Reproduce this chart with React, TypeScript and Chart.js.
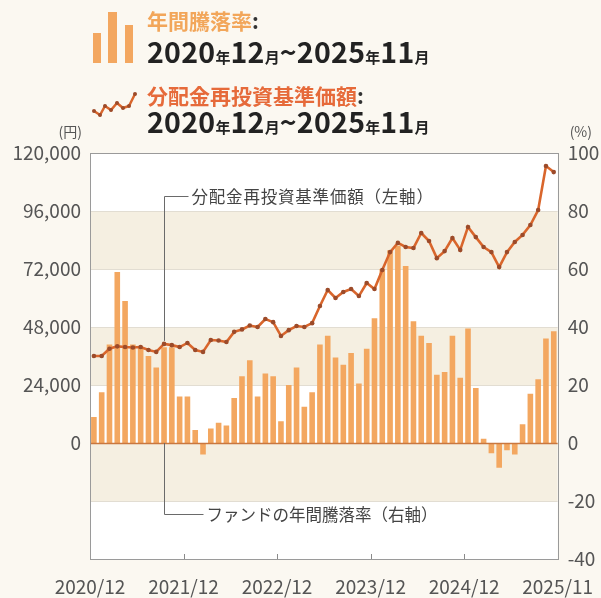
import React, { useEffect, useRef } from 'react';
import { Chart, registerables } from 'chart.js';

Chart.register(...registerables);

// ---- data ----
const tickLabels = ['2020/12', '2021/12', '2022/12', '2023/12', '2024/12', '2025/11'];
const tickPositions = [0, 12, 24, 36, 48, 60];

// 年間騰落率 (%), monthly 2020/12 - 2025/11
const annualReturn = [
  9, 17.5, 34, 59, 49, 34, 33, 30, 26, 33,
  33, 16, 16, 4.5, -4, 5, 7, 6, 15.5, 23,
  28.5, 16, 24, 23, 7.5, 20, 26, 12.5, 17.5, 34,
  37, 29.5, 27, 31, 20.5, 32.5, 43, 60, 66.5, 68,
  61, 42, 37, 34.5, 23.5, 24.5, 37, 22.5, 39.5, 19,
  1.5, -3.5, -8.5, -2.5, -4, 6.5, 17, 22, 36, 38.5,
];

// 分配金再投資基準価額 (円)
const navReinvested = [
  36000, 36000, 39000, 40000, 39700, 39500, 39700, 38500, 37700, 41000,
  40500, 39700, 41400, 38500, 37700, 42600, 42400, 41800, 46000, 47000,
  48600, 48000, 51300, 50000, 44300, 46700, 48400, 48000, 49600, 56700,
  63300, 60000, 62500, 63700, 60800, 66200, 63700, 71600, 79000, 82800,
  81100, 80700, 86900, 83600, 76500, 79400, 84800, 79900, 89400, 85200,
  81100, 79000, 72800, 79000, 83200, 86100, 90200, 96400, 114600, 112100,
];

const leftTicks = [-48000, -24000, 0, 24000, 48000, 72000, 96000, 120000];
const rightTicks = [-40, -20, 0, 20, 40, 60, 80, 100];
const shadedBands = [
  [72000, 96000],
  [24000, 48000],
  [-24000, 0],
];

const BG = '#fbf8f1';
const BAND = '#f5efe1';
const BAR = '#f3a760';
const LINE = '#d9662c';
const DOT = '#9c4b2a';
const FONT = '"Noto Sans CJK JP", "Noto Sans", sans-serif';

const decorPlugin = {
  id: 'decor',
  beforeDraw(chart: any) {
    const { ctx, chartArea: a, scales } = chart;
    const y = scales.y;
    ctx.save();
    ctx.fillStyle = '#ffffff';
    ctx.fillRect(a.left, a.top, a.right - a.left, a.bottom - a.top);
    ctx.fillStyle = BAND;
    shadedBands.forEach(([lo, hi]) => {
      const y1 = y.getPixelForValue(hi);
      const y2 = y.getPixelForValue(lo);
      ctx.fillRect(a.left, y1, a.right - a.left, y2 - y1);
    });
    ctx.restore();
  },
  afterDatasetsDraw(chart: any) {
    const { ctx, chartArea: a, scales } = chart;
    const x = scales.x;
    const y = scales.y;
    const y1 = scales.y1;
    ctx.save();
    // zero line
    const z = Math.round(y.getPixelForValue(0)) + 0.5;
    ctx.strokeStyle = '#c9773f';
    ctx.lineWidth = 1.5;
    ctx.beginPath();
    ctx.moveTo(a.left, z);
    ctx.lineTo(a.right, z);
    ctx.stroke();

    // frame
    ctx.strokeStyle = '#9a9a9a';
    ctx.lineWidth = 1;
    ctx.strokeRect(Math.round(a.left) + 0.5, Math.round(a.top) + 0.5, Math.round(a.right - a.left), Math.round(a.bottom - a.top));

    // inner tick marks on x axis
    ctx.strokeStyle = '#8a8a8a';
    tickPositions.slice(1, -1).forEach((v) => {
      const px = Math.round(x.getPixelForValue(v)) + 0.5;
      ctx.beginPath();
      ctx.moveTo(px, a.bottom);
      ctx.lineTo(px, a.bottom - 5);
      ctx.stroke();
    });

    // annotations
    const idx = 9;
    const ax = Math.round(x.getPixelForValue(idx + 0.5)) + 0.5;
    ctx.strokeStyle = '#6a6a6a';
    ctx.lineWidth = 1;
    ctx.font = `16.5px ${FONT}`;
    ctx.fillStyle = '#444';
    ctx.textBaseline = 'middle';
    ctx.textAlign = 'left';

    const lTop = Math.round(y.getPixelForValue(102000)) + 0.5;
    const lBot = y.getPixelForValue(navReinvested[idx]) - 3;
    ctx.beginPath();
    ctx.moveTo(ax, lBot);
    ctx.lineTo(ax, lTop);
    ctx.lineTo(ax + 24, lTop);
    ctx.stroke();
    try {
      ctx.letterSpacing = '0.8px';
    } catch (e) {
      /* ignore */
    }
    ctx.fillText('分配金再投資基準価額（左軸）', ax + 27, lTop);
    try {
      ctx.letterSpacing = '0px';
    } catch (e) {
      /* ignore */
    }

    const bTop = y1.getPixelForValue(0);
    const bBot = Math.round(y1.getPixelForValue(-24.5)) + 0.5;
    ctx.beginPath();
    ctx.moveTo(ax, bTop);
    ctx.lineTo(ax, bBot);
    ctx.lineTo(ax + 39, bBot);
    ctx.stroke();
    ctx.fillText('ファンドの年間騰落率（右軸）', ax + 42, bBot);

    // axis unit labels
    ctx.font = `14px ${FONT}`;
    ctx.fillStyle = '#555';
    ctx.textAlign = 'right';
    ctx.fillText('(円)', a.left - 8, a.top - 21);
    ctx.textAlign = 'left';
    ctx.fillText('(%)', a.right + 12, a.top - 21);
    ctx.restore();
  },
};

export default function App() {
  const ref = useRef<HTMLCanvasElement>(null);
  useEffect(() => {
    document.body.style.margin = '0';
    document.body.style.background = BG;
    const tickFont = { family: FONT, size: 19 };
    const chart = new Chart(ref.current as HTMLCanvasElement, {
      type: 'bar',
      data: {
        datasets: [
          {
            type: 'line',
            label: '分配金再投資基準価額',
            data: navReinvested.map((v, i) => ({ x: i + 0.5, y: v })),
            yAxisID: 'y',
            borderColor: LINE,
            borderWidth: 2.6,
            pointRadius: 2.3,
            pointBackgroundColor: DOT,
            pointBorderWidth: 0,
            tension: 0,
            order: 0,
          } as any,
          {
            type: 'bar',
            label: '年間騰落率',
            data: annualReturn.map((v, i) => ({ x: i + 0.5, y: v })),
            yAxisID: 'y1',
            backgroundColor: BAR,
            barPercentage: 0.72,
            categoryPercentage: 1,
            order: 1,
          } as any,
        ],
      },
      options: {
        animation: false,
        responsive: false,
        maintainAspectRatio: false,
        layout: { padding: { top: 153, left: 0, right: 0, bottom: 0 } },
        plugins: { legend: { display: false }, tooltip: { enabled: false } },
        scales: {
          x: {
            type: 'linear',
            offset: false,
            min: 0,
            max: 60,
            afterBuildTicks: (s: any) => {
              s.ticks = tickPositions.map((v) => ({ value: v }));
            },
            afterFit: (s: any) => {
              s.height = 39;
            },
            ticks: {
              autoSkip: false,
              maxRotation: 0,
              padding: 8,
              color: '#555',
              font: tickFont,
              callback: (v: any) => {
                const k = tickPositions.indexOf(Number(v));
                return k >= 0 ? tickLabels[k] : '';
              },
            },
            grid: { display: false, offset: false },
            border: { display: false },
          },
          y: {
            position: 'left',
            min: -48000,
            max: 120000,
            afterBuildTicks: (s: any) => {
              s.ticks = leftTicks.map((v) => ({ value: v }));
            },
            afterFit: (s: any) => {
              s.width = 90;
            },
            ticks: {
              padding: 9,
              color: '#555',
              font: tickFont,
              callback: (v: any) => (Number(v) < 0 ? '' : Number(v).toLocaleString('en-US')),
            },
            grid: {
              drawTicks: false,
              color: (c: any) => (c.tick && (c.tick.value === 0 || c.tick.value === 120000) ? 'rgba(0,0,0,0)' : '#e2ddd2'),
              lineWidth: 1,
            },
            border: { display: false },
          },
          y1: {
            position: 'right',
            min: -40,
            max: 100,
            afterBuildTicks: (s: any) => {
              s.ticks = rightTicks.map((v) => ({ value: v }));
            },
            afterFit: (s: any) => {
              s.width = 43;
            },
            ticks: { padding: 10, color: '#555', font: tickFont },
            grid: { display: false, drawTicks: false },
            border: { display: false },
          },
        },
      },
      plugins: [decorPlugin],
    } as any);
    return () => chart.destroy();
  }, []);

  const small = { fontSize: 15, letterSpacing: 0 };
  const dateStyle: React.CSSProperties = {
    position: 'absolute',
    left: 147,
    fontFamily: FONT,
    fontWeight: 700,
    fontSize: 28.5,
    lineHeight: '28px',
    letterSpacing: 0.3,
    color: '#222',
    whiteSpace: 'nowrap',
  };
  const dateText = (
    <>
      2020<span style={small}>年</span>12<span style={small}>月</span>~2025<span style={small}>年</span>11
      <span style={small}>月</span>
    </>
  );

  return (
    <div style={{ position: 'relative', width: 601, height: 598, background: BG, overflow: 'hidden' }}>
      <canvas ref={ref} width={601} height={598} style={{ position: 'absolute', left: 0, top: 0 }} />
      {/* bar legend icon */}
      <div style={{ position: 'absolute', left: 93, top: 33, width: 8, height: 30, background: BAR }} />
      <div style={{ position: 'absolute', left: 108, top: 12, width: 9, height: 51, background: BAR }} />
      <div style={{ position: 'absolute', left: 125, top: 25, width: 8, height: 38, background: BAR }} />
      <div
        style={{
          position: 'absolute',
          left: 147,
          top: 10,
          fontFamily: FONT,
          fontWeight: 700,
          fontSize: 21,
          lineHeight: '21px',
          color: '#f2a65a',
          whiteSpace: 'nowrap',
        }}
      >
        年間騰落率<span style={{ color: '#333' }}>:</span>
      </div>
      <div style={{ ...dateStyle, top: 37 }}>{dateText}</div>
      {/* line legend icon */}
      <svg style={{ position: 'absolute', left: 90, top: 88 }} width={48} height={36}>
        <polyline
          points="4,23 10,27 15,18 21,22 27,15 33,20 39,18 45,6"
          fill="none"
          stroke={LINE}
          strokeWidth={2.5}
        />
        {[
          [4, 23],
          [10, 27],
          [15, 18],
          [21, 22],
          [27, 15],
          [33, 20],
          [39, 18],
          [45, 6],
        ].map(([cx, cy], i) => (
          <circle key={i} cx={cx} cy={cy} r={2} fill={DOT} />
        ))}
      </svg>
      <div
        style={{
          position: 'absolute',
          left: 147,
          top: 85,
          fontFamily: FONT,
          fontWeight: 700,
          fontSize: 21,
          lineHeight: '21px',
          color: '#e66a3a',
          whiteSpace: 'nowrap',
        }}
      >
        分配金再投資基準価額<span style={{ color: '#333' }}>:</span>
      </div>
      <div style={{ ...dateStyle, top: 107 }}>{dateText}</div>
    </div>
  );
}
